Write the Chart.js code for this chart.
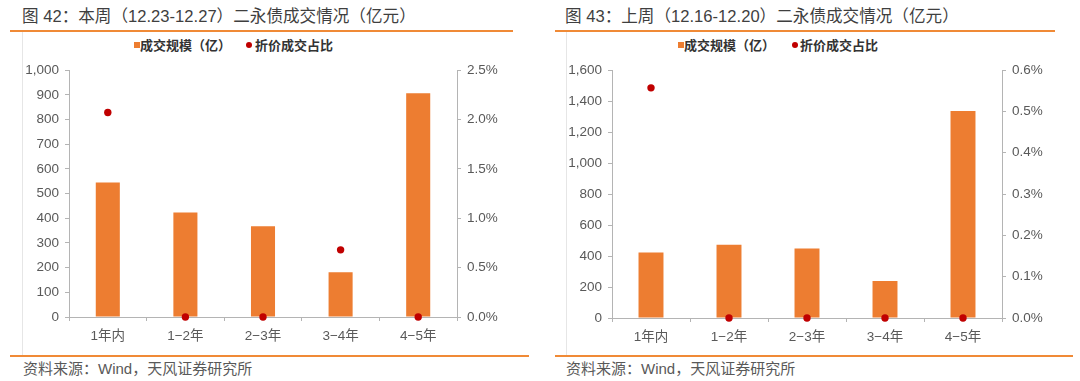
<!DOCTYPE html>
<html>
<head>
<meta charset="utf-8">
<script src="https://cdn.jsdelivr.net/npm/chart.js@4"></script>
<style>
  html, body { margin:0; padding:0; background:#fff; }
  body { width:1080px; height:381px; position:relative; overflow:hidden;
         font-family:"Liberation Sans","Noto Sans CJK SC",sans-serif; }
  .abs { position:absolute; }
  .title { font-size:16.6px; color:#3f3f3f; white-space:nowrap; line-height:20px; }
  .src { font-size:15px; color:#595959; white-space:nowrap; line-height:18px; }
  .hline { height:2px; background:#F08A36; }
  .vline { width:1px; background:#e6e6e6; }
  .legend { font-family:"Noto Sans CJK SC",sans-serif; font-size:13px; font-weight:bold; color:#333; white-space:nowrap; line-height:16px; }
  .sq { width:6px; height:6px; background:#ED7D31; }
  .dot { width:6px; height:6px; border-radius:50%; background:#C00000; }
</style>
</head>
<body>
<div class="abs title" style="left:22px;top:7px;">图 42：本周（12.23-12.27）二永债成交情况（亿元）</div>
<div class="abs title" style="left:565px;top:7px;">图 43：上周（12.16-12.20）二永债成交情况（亿元）</div>
<div class="abs hline" style="left:10px;top:30px;width:503px;"></div>
<div class="abs hline" style="left:555px;top:30px;width:500px;"></div>
<div class="abs vline" style="left:22px;top:32px;height:324px;"></div>
<div class="abs vline" style="left:566px;top:32px;height:324px;"></div>
<div class="abs hline" style="left:10px;top:355px;width:519px;"></div>
<div class="abs hline" style="left:555px;top:355px;width:518px;"></div>
<div class="abs src" style="left:23px;top:360px;">资料来源：Wind，天风证券研究所</div>
<div class="abs src" style="left:566px;top:360px;">资料来源：Wind，天风证券研究所</div>

<!-- legends -->
<div class="abs sq" style="left:134px;top:42px;"></div>
<div class="abs legend" style="left:140px;top:37px;">成交规模（亿）</div>
<div class="abs dot" style="left:246px;top:42px;"></div>
<div class="abs legend" style="left:255px;top:37px;">折价成交占比</div>
<div class="abs sq" style="left:678px;top:42px;"></div>
<div class="abs legend" style="left:684px;top:37px;">成交规模（亿）</div>
<div class="abs dot" style="left:792px;top:42px;"></div>
<div class="abs legend" style="left:800px;top:37px;">折价成交占比</div>

<canvas id="c1" class="abs" width="491" height="294" style="left:22px;top:56px;"></canvas>
<canvas id="c2" class="abs" width="489" height="295" style="left:566px;top:56px;"></canvas>

<script>
// ---- data ----
const categories = ["1年内", "1-2年", "2-3年", "3-4年", "4-5年"];
const categoryLabels = ["1年内", "1\u22122年", "2\u22123年", "3\u22124年", "4\u22125年"];
const volumeThisWeek = [545, 423, 368, 181, 906];      // 成交规模（亿）
const discountThisWeek = [2.07, 0, 0, 0.68, 0];         // 折价成交占比 (%)
const volumeLastWeek = [423, 472, 449, 238, 1336];
const discountLastWeek = [0.557, 0, 0, 0, 0];
const leftTicks1 = { min: 0, max: 1000, step: 100 };
const rightTicks1 = { min: 0, max: 2.5, step: 0.5 };
const leftTicks2 = { min: 0, max: 1600, step: 200 };
const rightTicks2 = { min: 0, max: 0.6, step: 0.1 };

const FONT = { family: '"Liberation Sans","Noto Sans CJK SC",sans-serif', size: 13.5 };
const AXIS = '#B4B4B4';
const TICK = '#595959';

function makeChart(id, vols, pcts, lt, rt, dims) {
  return new Chart(document.getElementById(id), {
    type: 'bar',
    data: {
      labels: categoryLabels,
      datasets: [
        { type: 'line', label: '折价成交占比', data: pcts, yAxisID: 'y1', showLine: false,
          pointRadius: 3.7, pointHoverRadius: 3.7, pointBackgroundColor: '#C00000',
          pointBorderColor: '#C00000', pointBorderWidth: 0, clip: false, order: 0 },
        { type: 'bar', label: '成交规模（亿）', data: vols, yAxisID: 'y', backgroundColor: '#ED7D31',
          barPercentage: dims.bar, categoryPercentage: 1.0, order: 1 }
      ]
    },
    options: {
      responsive: false, animation: false, devicePixelRatio: 1,
      layout: { padding: { top: 0, bottom: 0, left: 0, right: 0 } },
      plugins: { legend: { display: false }, tooltip: { enabled: false } },
      scales: {
        x: {
          offset: true,
          grid: { display: true, offset: true, drawOnChartArea: false, tickLength: 4, color: AXIS },
          border: { display: true, color: AXIS },
          ticks: { font: FONT, color: TICK, padding: 7, maxRotation: 0 },
          afterFit: s => { s.height = dims.xh; }
        },
        y: {
          position: 'left', min: lt.min, max: lt.max,
          grid: { drawOnChartArea: false, tickLength: 4, color: AXIS },
          border: { display: true, color: AXIS },
          ticks: { stepSize: lt.step, font: FONT, color: TICK, padding: 6,
                   callback: v => Number(v).toLocaleString('en-US') },
          afterFit: s => { s.width = dims.lw; }
        },
        y1: {
          position: 'right', min: rt.min, max: rt.max,
          grid: { drawOnChartArea: false, tickLength: 4, color: AXIS },
          border: { display: true, color: AXIS },
          ticks: { stepSize: rt.step, font: FONT, color: TICK, padding: 6,
                   callback: v => Number(v).toFixed(1) + '%' },
          afterFit: s => { s.width = dims.rw; }
        }
      }
    }
  });
}

makeChart('c1', volumeThisWeek, discountThisWeek, leftTicks1, rightTicks1,
          { bar: 0.31, xh: 33, lw: 47, rw: 56 });
makeChart('c2', volumeLastWeek, discountLastWeek, leftTicks2, rightTicks2,
          { bar: 0.32, xh: 33, lw: 46, rw: 53 });
</script>
</body>
</html>
